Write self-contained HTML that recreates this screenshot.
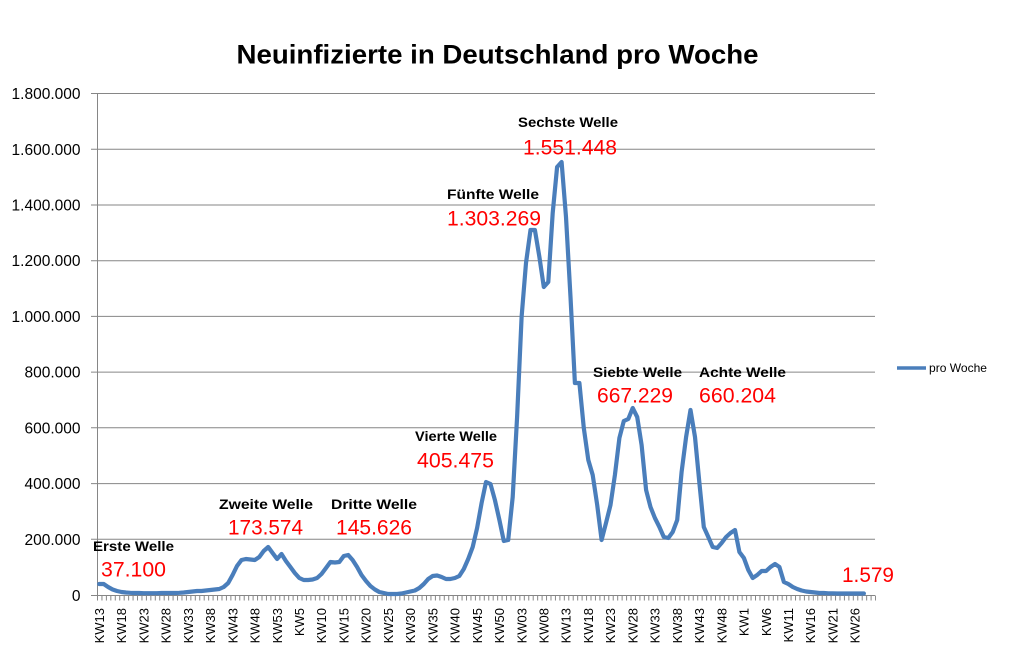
<!DOCTYPE html>
<html><head><meta charset="utf-8"><style>
html,body{margin:0;padding:0;background:#fff;}
svg{display:block;}
text{font-family:"Liberation Sans",sans-serif;}
</style></head><body>
<svg width="1017" height="666" viewBox="0 0 1017 666" xmlns="http://www.w3.org/2000/svg">
<rect width="1017" height="666" fill="#fff"/>
<text x="236.5" y="63.5" font-size="27" font-weight="bold" textLength="522" lengthAdjust="spacingAndGlyphs" fill="#000">Neuinfizierte in Deutschland pro Woche</text>
<g stroke="#868686" stroke-width="1">
<line x1="91" y1="93.5" x2="875" y2="93.5"/>
<line x1="91" y1="149.2" x2="875" y2="149.2"/>
<line x1="91" y1="205" x2="875" y2="205"/>
<line x1="91" y1="260.7" x2="875" y2="260.7"/>
<line x1="91" y1="316.4" x2="875" y2="316.4"/>
<line x1="91" y1="372.1" x2="875" y2="372.1"/>
<line x1="91" y1="427.8" x2="875" y2="427.8"/>
<line x1="91" y1="483.6" x2="875" y2="483.6"/>
<line x1="91" y1="539.3" x2="875" y2="539.3"/>
<line x1="91" y1="595.5" x2="875" y2="595.5"/>
<line x1="97.5" y1="93.5" x2="97.5" y2="600"/>
</g>
<line x1="97" y1="598" x2="876" y2="598" stroke="#868686" stroke-width="5" stroke-dasharray="1 3.446"/>
<g font-size="15.5" text-anchor="end" fill="#000">
<text x="80.5" y="601">0</text>
<text x="80.5" y="545">200.000</text>
<text x="80.5" y="489">400.000</text>
<text x="80.5" y="433.5">600.000</text>
<text x="80.5" y="377.5">800.000</text>
<text x="80.5" y="322">1.000.000</text>
<text x="80.5" y="266">1.200.000</text>
<text x="80.5" y="210.5">1.400.000</text>
<text x="80.5" y="155">1.600.000</text>
<text x="80.5" y="99">1.800.000</text>
</g>
<g font-size="13" text-anchor="end" fill="#000">
<text transform="translate(104.0,608) rotate(-90)">KW13</text>
<text transform="translate(126.2,608) rotate(-90)">KW18</text>
<text transform="translate(148.4,608) rotate(-90)">KW23</text>
<text transform="translate(170.6,608) rotate(-90)">KW28</text>
<text transform="translate(192.9,608) rotate(-90)">KW33</text>
<text transform="translate(215.1,608) rotate(-90)">KW38</text>
<text transform="translate(237.3,608) rotate(-90)">KW43</text>
<text transform="translate(259.6,608) rotate(-90)">KW48</text>
<text transform="translate(281.8,608) rotate(-90)">KW53</text>
<text transform="translate(304.0,608) rotate(-90)">KW5</text>
<text transform="translate(326.2,608) rotate(-90)">KW10</text>
<text transform="translate(348.5,608) rotate(-90)">KW15</text>
<text transform="translate(370.7,608) rotate(-90)">KW20</text>
<text transform="translate(392.9,608) rotate(-90)">KW25</text>
<text transform="translate(415.1,608) rotate(-90)">KW30</text>
<text transform="translate(437.4,608) rotate(-90)">KW35</text>
<text transform="translate(459.6,608) rotate(-90)">KW40</text>
<text transform="translate(481.8,608) rotate(-90)">KW45</text>
<text transform="translate(504.1,608) rotate(-90)">KW50</text>
<text transform="translate(526.3,608) rotate(-90)">KW03</text>
<text transform="translate(548.5,608) rotate(-90)">KW08</text>
<text transform="translate(570.7,608) rotate(-90)">KW13</text>
<text transform="translate(593.0,608) rotate(-90)">KW18</text>
<text transform="translate(615.2,608) rotate(-90)">KW23</text>
<text transform="translate(637.4,608) rotate(-90)">KW28</text>
<text transform="translate(659.7,608) rotate(-90)">KW33</text>
<text transform="translate(681.9,608) rotate(-90)">KW38</text>
<text transform="translate(704.1,608) rotate(-90)">KW43</text>
<text transform="translate(726.3,608) rotate(-90)">KW48</text>
<text transform="translate(748.6,608) rotate(-90)">KW1</text>
<text transform="translate(770.8,608) rotate(-90)">KW6</text>
<text transform="translate(793.0,608) rotate(-90)">KW11</text>
<text transform="translate(815.2,608) rotate(-90)">KW16</text>
<text transform="translate(837.5,608) rotate(-90)">KW21</text>
<text transform="translate(859.7,608) rotate(-90)">KW26</text>
</g>
<polyline fill="none" stroke="#4a7ebb" stroke-width="4.2" stroke-linejoin="round" stroke-linecap="round" points="
99.2,584 103.7,584 108.1,587 112.6,589.5 117.0,591 121.5,592 125.9,592.5 130.3,592.8 134.8,593 139.2,593 143.7,593.2 148.1,593.2 152.6,593.2 157.0,593.2 161.5,593 165.9,593 170.4,593 174.8,593 179.3,592.8 183.7,592.5
188.1,592 192.6,591.5 197.0,591 201.5,591 205.9,590.5 210.4,590 214.8,589.5 219.3,589 223.7,587 228.2,583
232.6,575 237.0,566 241.5,560 245.9,559 250.4,559.5 254.8,560 259.3,557 263.7,551 268.2,547 272.6,553
277.1,559 281.5,554 285.9,561 290.4,567 294.8,573 299.3,578 303.7,580 308.2,580 312.6,579.5 317.1,578
321.5,574 326.0,568 330.4,562 334.9,562.5 339.3,562 343.8,556 348.2,555 352.6,560 357.1,567 361.5,575
366.0,581 370.4,586 374.9,589.5 379.3,592 383.8,593 388.2,594 392.7,594 397.1,594 401.5,593.5 406.0,592.5
410.4,591.5 414.9,590.5 419.3,588 423.8,584 428.2,579 432.7,576 437.1,575.5 441.6,577 446.0,579 450.4,579
454.9,578 459.3,576 463.8,569 468.2,559 472.7,547 477.1,528 481.6,503 486.0,482 490.5,484 494.9,500
499.4,520 503.8,541 508.2,540 512.7,497 517.1,417 521.6,317 526.0,263 530.5,230 534.9,230 539.4,257
543.8,287 548.3,282 552.7,213 557.1,167 561.6,162 566.0,217 570.5,297 574.9,383 579.4,383 583.8,428
588.3,460 592.7,475 597.2,505 601.6,540 606.0,523 610.5,505 614.9,475 619.4,438 623.8,421 628.3,419
632.7,408 637.2,417 641.6,445 646.1,490 650.5,507 654.9,518 659.4,527 663.8,537 668.3,538 672.7,532
677.2,520 681.6,472 686.1,437 690.5,410 695.0,437 699.4,483 703.8,527 708.3,537 712.7,547 717.2,548
721.6,543 726.1,537 730.5,533 735.0,530 739.4,552 743.9,558 748.3,570 752.7,578 757.2,575 761.6,571
766.1,571 770.5,567 775.0,564 779.4,567 783.9,582 788.3,584 792.8,587 797.2,589 801.6,590.5 806.1,591.5
810.5,592 815.0,592.5 819.4,593 823.9,593 828.3,593.3 832.8,593.3 837.2,593.5 841.7,593.5 846.1,593.5 850.5,593.5
855.0,593.5 859.4,593.5 863.9,593.5"/>
<line x1="897" y1="368" x2="926" y2="368" stroke="#4a7ebb" stroke-width="3.5"/>
<text x="929" y="372" font-size="12" textLength="58" lengthAdjust="spacingAndGlyphs" fill="#000">pro Woche</text>
<g font-size="14" font-weight="bold" fill="#000">
<text x="93" y="551" textLength="81" lengthAdjust="spacingAndGlyphs">Erste Welle</text>
<text x="219" y="509" textLength="94" lengthAdjust="spacingAndGlyphs">Zweite Welle</text>
<text x="331" y="509" textLength="86" lengthAdjust="spacingAndGlyphs">Dritte Welle</text>
<text x="415" y="441" textLength="82" lengthAdjust="spacingAndGlyphs">Vierte Welle</text>
<text x="447" y="199" textLength="92" lengthAdjust="spacingAndGlyphs">Fünfte Welle</text>
<text x="518" y="127" textLength="100" lengthAdjust="spacingAndGlyphs">Sechste Welle</text>
<text x="593" y="377" textLength="89" lengthAdjust="spacingAndGlyphs">Siebte Welle</text>
<text x="699" y="377" textLength="87" lengthAdjust="spacingAndGlyphs">Achte Welle</text>
</g>
<g font-size="21" fill="#ff0000">
<text x="101" y="576.5" textLength="65" lengthAdjust="spacingAndGlyphs">37.100</text>
<text x="228" y="534.5" textLength="75" lengthAdjust="spacingAndGlyphs">173.574</text>
<text x="336" y="534.5" textLength="76" lengthAdjust="spacingAndGlyphs">145.626</text>
<text x="417" y="467.5" textLength="77" lengthAdjust="spacingAndGlyphs">405.475</text>
<text x="447" y="225.5" textLength="94" lengthAdjust="spacingAndGlyphs">1.303.269</text>
<text x="523" y="154.5" textLength="94" lengthAdjust="spacingAndGlyphs">1.551.448</text>
<text x="597" y="402.5" textLength="76" lengthAdjust="spacingAndGlyphs">667.229</text>
<text x="699" y="402.5" textLength="77" lengthAdjust="spacingAndGlyphs">660.204</text>
<text x="842" y="582" textLength="52" lengthAdjust="spacingAndGlyphs">1.579</text>
</g>
</svg>
</body></html>
